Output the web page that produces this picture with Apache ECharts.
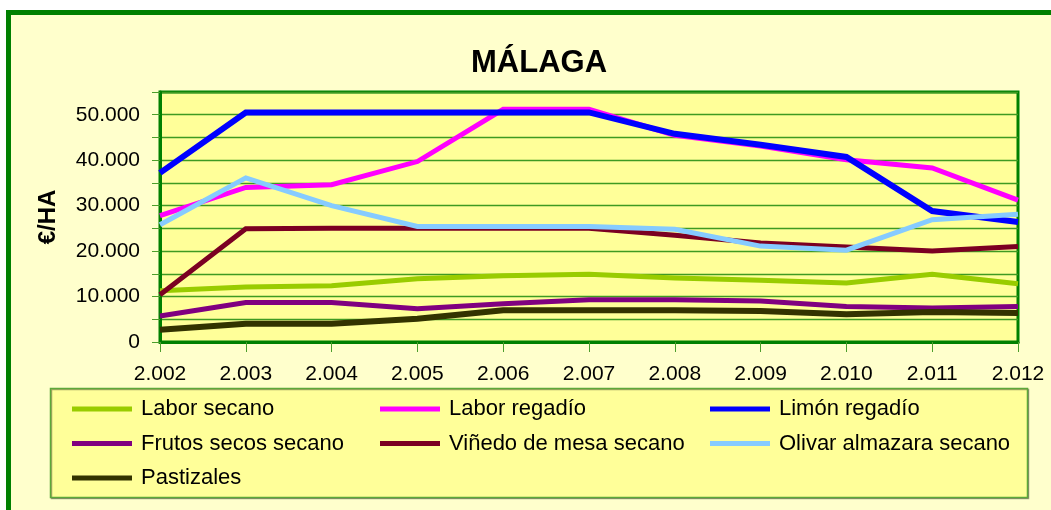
<!DOCTYPE html>
<html>
<head>
<meta charset="utf-8">
<script src="https://cdn.jsdelivr.net/npm/echarts@6/dist/echarts.min.js"></script>
<style>
html,body{margin:0;padding:0;background:#fff;}
#c{width:1051px;height:510px;}
</style>
</head>
<body>
<div id="c"></div>
<script>
var years = ['2.002','2.003','2.004','2.005','2.006','2.007','2.008','2.009','2.010','2.011','2.012'];
var laborSecano  = [11300, 12100, 12400, 13900, 14600, 14900, 14100, 13600, 13000, 14900, 12800];
var laborRegadio = [27800, 34000, 34600, 39700, 51200, 51200, 45500, 43100, 40100, 38300, 31200];
var limonRegadio = [37200, 50500, 50500, 50500, 50500, 50500, 45800, 43400, 40700, 28800, 26400];
var frutosSecos  = [5700, 8700, 8700, 7300, 8400, 9300, 9300, 9000, 7800, 7500, 7800];
var vinedoMesa   = [10400, 24900, 25000, 25000, 25000, 25000, 23500, 21800, 20900, 20000, 21000];
var olivar       = [25800, 36100, 30000, 25400, 25400, 25400, 24800, 21100, 20200, 26900, 28100];
var pastizales   = [2700, 4000, 4000, 5100, 7000, 7000, 7000, 6800, 6100, 6600, 6400];
var seriesNames = ['Labor secano','Labor regadío','Limón regadío','Frutos secos secano','Viñedo de mesa secano','Olivar almazara secano','Pastizales'];
var seriesData = [laborSecano, laborRegadio, limonRegadio, frutosSecos, vinedoMesa, olivar, pastizales];
var colors = ['#99CC00','#FF00FF','#0000FF','#800080','#7B0022','#86CBFF','#333300'];
var widths = [5,5,6,5,5,5,6];

var FONT = '"Liberation Sans", Arial, sans-serif';
var chart = echarts.init(document.getElementById('c'), null, {renderer:'canvas'});

function fmt(v){
  if (v % 10000 !== 0) return '';
  return String(v).replace(/\B(?=(\d{3})+(?!\d))/g, '.');
}

var legendCommon = {
  orient: 'vertical',
  icon: 'rect',
  itemWidth: 60,
  itemHeight: 5,
  itemGap: 12.5,
  padding: 0,
  selectedMode: false,
  textStyle: {fontFamily: FONT, fontSize: 22, color: '#000', lineHeight: 22, padding: [0,0,0,4]}
};

var option = {
  backgroundColor: '#ffffff',
  animation: false,
  graphic: [
    {type:'rect', z:-10, shape:{x:8.5, y:12.5, width:1100, height:600},
     style:{fill:'#FFFFCC', stroke:'#008000', lineWidth:5}},
    {type:'rect', z:-5, shape:{x:50.5, y:388.5, width:977, height:109},
     style:{fill:'#FFFF99', stroke:'#5DA83A', lineWidth:1.5,
            shadowBlur:0, shadowColor:'rgba(0,0,0,0.35)', shadowOffsetX:1, shadowOffsetY:1}}
  ],
  title: {
    text: 'MÁLAGA',
    left: 534, top: 43,
    textAlign: 'center',
    textStyle: {fontFamily: FONT, fontSize: 31, fontWeight: 'bold', color: '#000'}
  },
  legend: [
    Object.assign({}, legendCommon, {left: 72, top: 398, data: [seriesNames[0], seriesNames[3], seriesNames[6]]}),
    Object.assign({}, legendCommon, {left: 380, top: 398, data: [seriesNames[1], seriesNames[4]]}),
    Object.assign({}, legendCommon, {left: 710, top: 398, data: [seriesNames[2], seriesNames[5]]})
  ],
  grid: {
    left: 160, right: 33, top: 92, bottom: 168,
    show: true, backgroundColor: '#FFFF99', borderColor: '#008000', borderWidth: 3
  },
  xAxis: {
    type: 'category',
    data: years,
    boundaryGap: false,
    axisLine: {lineStyle: {color: '#008000', width: 3}},
    axisTick: {show: true, length: 10, lineStyle: {color: '#4C9E2C', width: 1}},
    axisLabel: {fontFamily: FONT, fontSize: 21, color: '#000', margin: 22},
    splitLine: {show: false}
  },
  yAxis: {
    type: 'value',
    min: 0, max: 55000, interval: 5000,
    name: '€/HA',
    nameLocation: 'middle',
    nameRotate: 90,
    nameGap: 100,
    nameTextStyle: {fontFamily: FONT, fontSize: 24, fontWeight: 'bold', color: '#000'},
    axisLine: {show: true, lineStyle: {color: '#008000', width: 3}},
    axisTick: {show: true, length: 8, lineStyle: {color: '#4C9E2C', width: 1}},
    axisLabel: {fontFamily: FONT, fontSize: 21, color: '#000', margin: 20, formatter: fmt, showMaxLabel: true},
    splitLine: {show: true, lineStyle: {color: '#3E9A22', width: 1.3}}
  },
  series: seriesNames.map(function(n, i){
    return {
      name: n, type: 'line', data: seriesData[i],
      symbol: 'none', showSymbol: false,
      color: colors[i],
      lineStyle: {color: colors[i], width: widths[i], cap: 'butt', join: 'miter'},
      itemStyle: {color: colors[i]},
      z: 2 + i
    };
  })
};
chart.setOption(option);
</script>
</body>
</html>
